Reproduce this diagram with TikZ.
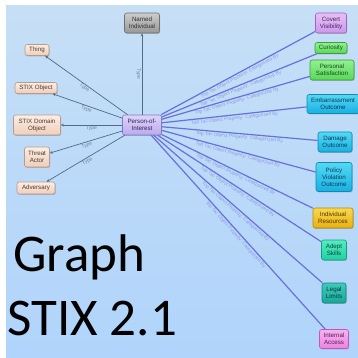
\documentclass[tikz,border=0pt]{standalone}
\usepackage{fontspec}
\setmainfont{Liberation Sans}
\newfontfamily\titlefont{Carlito}
\usetikzlibrary{shadows,arrows.meta}

\definecolor{bgtop}{RGB}{198,223,246}
\definecolor{bgbot}{RGB}{176,212,251}
\definecolor{tacline}{RGB}{104,112,220}
\definecolor{tactext}{RGB}{140,154,224}
\definecolor{typeline}{RGB}{78,108,136}
\definecolor{typetext}{RGB}{112,132,156}

\tikzset{
  box/.style={rounded corners=2.2pt, align=center, inner sep=0.8pt,
    font=\fontsize{6.2}{7}\selectfont, line width=0.6pt,
    drop shadow={shadow xshift=0.7pt, shadow yshift=-0.9pt, opacity=0.35, fill=black!60}},
  peach/.style={box, draw={rgb,255:red,184;green,153;blue,138},
    top color={rgb,255:red,252;green,238;blue,228}, bottom color={rgb,255:red,238;green,206;blue,186},
    text={rgb,255:red,74;green,58;blue,48}},
  greybox/.style={box, draw={rgb,255:red,112;green,112;blue,112},
    top color={rgb,255:red,204;green,204;blue,204}, bottom color={rgb,255:red,152;green,152;blue,152},
    text={rgb,255:red,48;green,48;blue,48}},
  lavender/.style={box, draw={rgb,255:red,136;green,120;blue,192},
    top color={rgb,255:red,222;green,212;blue,250}, bottom color={rgb,255:red,186;green,170;blue,238},
    text={rgb,255:red,48;green,40;blue,80}},
  purplebox/.style={box, draw={rgb,255:red,154;green,104;blue,192},
    top color={rgb,255:red,230;green,192;blue,246}, bottom color={rgb,255:red,204;green,152;blue,236},
    text={rgb,255:red,70;green,40;blue,90}},
  greenbox/.style={box, draw={rgb,255:red,56;green,160;blue,56},
    top color={rgb,255:red,146;green,240;blue,146}, bottom color={rgb,255:red,88;green,216;blue,88},
    text={rgb,255:red,26;green,74;blue,26}},
  cyanbox/.style={box, draw={rgb,255:red,16;green,136;blue,176},
    top color={rgb,255:red,84;green,216;blue,244}, bottom color={rgb,255:red,24;green,176;blue,224},
    text={rgb,255:red,10;green,58;blue,90}},
  orangebox/.style={box, draw={rgb,255:red,184;green,138;blue,0},
    top color={rgb,255:red,248;green,216;blue,80}, bottom color={rgb,255:red,232;green,176;blue,16},
    text={rgb,255:red,80;green,56;blue,0}},
  mintbox/.style={box, draw={rgb,255:red,16;green,160;blue,128},
    top color={rgb,255:red,84;green,236;blue,192}, bottom color={rgb,255:red,32;green,208;blue,160},
    text={rgb,255:red,10;green,70;blue,56}},
  tealbox/.style={box, draw={rgb,255:red,16;green,136;blue,120},
    top color={rgb,255:red,64;green,200;blue,188}, bottom color={rgb,255:red,24;green,168;blue,152},
    text={rgb,255:red,8;green,60;blue,54}},
  pinkbox/.style={box, draw={rgb,255:red,192;green,88;blue,184},
    top color={rgb,255:red,248;green,176;blue,240}, bottom color={rgb,255:red,236;green,132;blue,224},
    text={rgb,255:red,80;green,32;blue,80}},
  tacedge/.style={draw=tacline, line width=1.2pt},
  taclab/.style={font=\fontsize{4.8}{5}\selectfont, text=tactext, sloped, below=0.4pt,
    pos=0.5, inner sep=0.4pt},
  typeedge/.style={draw=typeline, line width=0.7pt, {Stealth[length=3pt,width=2.6pt]}-},
  typelab/.style={font=\fontsize{5}{5}\selectfont, text=typetext, sloped, below=0.3pt,
    midway, inner sep=0.5pt},
}

\begin{document}
\begin{tikzpicture}[x=1pt,y=-1pt]
\useasboundingbox (0,0) rectangle (358,358);
\clip (0,0) rectangle (358,358);
\fill[white] (0,0) rectangle (358,358);
\shade[top color=bgtop, bottom color=bgbot] (6,6) rectangle (358,358);

% type hierarchy on the left
\node[greybox, minimum width=35pt, minimum height=20pt] (named) at (142,23) {Named\\Individual};
\node[peach, minimum width=24pt, minimum height=11pt] (thing) at (37,50) {Thing};
\node[peach, minimum width=42pt, minimum height=11pt] (stixobj) at (36,88) {STIX Object};
\node[peach, minimum width=47pt, minimum height=20pt] (sdo) at (37,125) {STIX Domain\\Object};
\node[peach, minimum width=25pt, minimum height=20pt] (threat) at (37,157) {Threat\\Actor};
\node[peach, minimum width=38pt, minimum height=12pt] (adversary) at (36,188) {Adversary};

% central class
\node[lavender, minimum width=39pt, minimum height=20pt] (poi) at (142,125) {Person-of-\\Interest};

% categories on the right
\node[purplebox, minimum width=31pt, minimum height=20pt] (covert) at (331,23) {Covert\\Visibility};
\node[greenbox, minimum width=32pt, minimum height=11pt] (curiosity) at (331,48) {Curiosity};
\node[greenbox, minimum width=44pt, minimum height=20pt] (personal) at (332,70) {Personal\\Satisfaction};
\node[cyanbox, minimum width=52pt, minimum height=19pt] (embarr) at (333,104) {Embarrassment\\Outcome};
\node[cyanbox, minimum width=34pt, minimum height=20pt] (damage) at (335,142) {Damage\\Outcome};
\node[cyanbox, minimum width=36pt, minimum height=29pt] (policy) at (334,177) {Policy\\Violation\\Outcome};
\node[orangebox, minimum width=40pt, minimum height=20pt] (indres) at (333,218) {Individual\\Resources};
\node[mintbox, minimum width=25pt, minimum height=20pt] (adept) at (334,250) {Adept\\Skills};
\node[tealbox, minimum width=24pt, minimum height=20pt] (legal) at (334,293) {Legal\\Limits};
\node[pinkbox, minimum width=29pt, minimum height=19pt] (internal) at (334,339) {Internal\\Access};

% "Type" links
\draw[typeedge] (named) -- node[typelab]{Type} (poi);
\draw[typeedge] (thing) -- node[typelab]{Type} (poi);
\draw[typeedge] (stixobj) -- node[typelab]{Type} (poi);
\draw[typeedge] (sdo) -- node[typelab]{Type} (poi);
\draw[typeedge] (threat) -- node[typelab]{Type} (poi);
\draw[typeedge] (adversary) -- node[typelab]{Type} (poi);

% "Categorized By" links
\foreach \t in {covert,curiosity,personal,embarr,damage,policy,indres,adept,legal,internal}
  \draw[tacedge] (poi) -- node[taclab]{Top Tac Object Property: Categorized By} (\t);

% caption
\node[anchor=base west, inner sep=0pt, font=\titlefont\fontsize{53}{53}\selectfont] (graphtitle) at (13,271) {Graph};
\node[anchor=base west, inner sep=0pt, font=\titlefont\fontsize{53}{53}\selectfont] (stixtitle) at (7,335) {STIX 2.1};
\end{tikzpicture}
\end{document}
